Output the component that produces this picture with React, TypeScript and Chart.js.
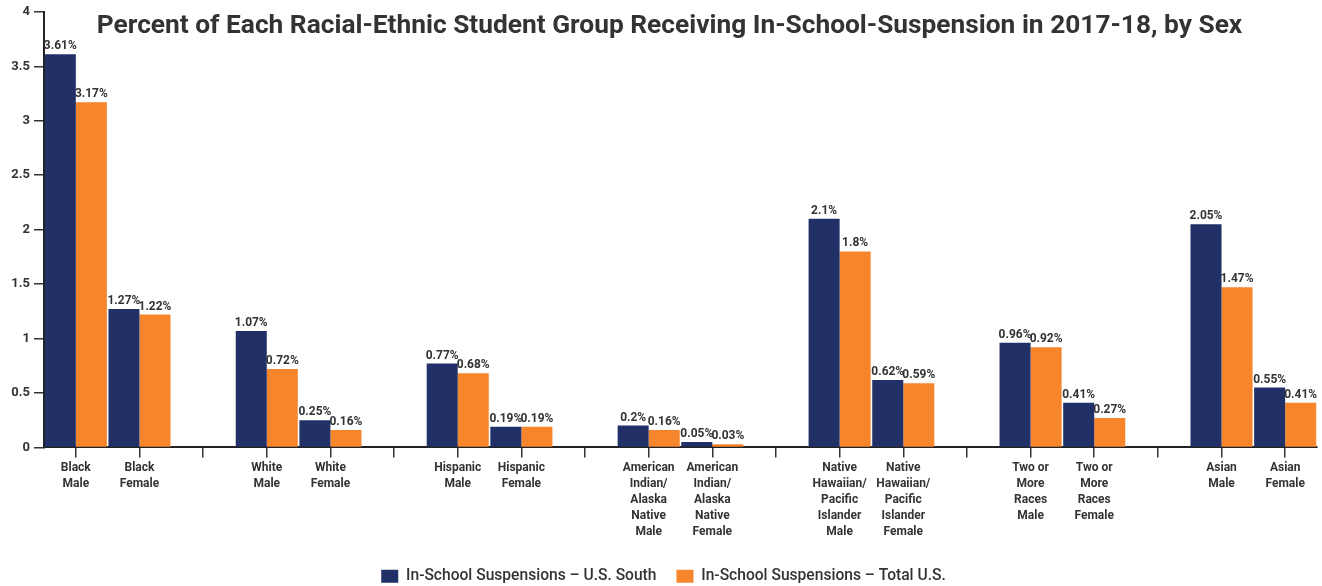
import React, { useEffect, useRef } from 'react';
import { Chart, registerables } from 'chart.js';

Chart.register(...registerables);

const titleText =
  'Percent of Each Racial-Ethnic Student Group Receiving In-School-Suspension in 2017-18, by Sex';

const seriesNames = ['In-School Suspensions \u2013 U.S. South', 'In-School Suspensions \u2013 Total U.S.'];

const categoryLabels: (string | string[])[] = [
  ['Black', 'Male'],
  ['Black', 'Female'],
  '',
  ['White', 'Male'],
  ['White', 'Female'],
  '',
  ['Hispanic', 'Male'],
  ['Hispanic', 'Female'],
  '',
  ['American', 'Indian/', 'Alaska', 'Native', 'Male'],
  ['American', 'Indian/', 'Alaska', 'Native', 'Female'],
  '',
  ['Native', 'Hawaiian/', 'Pacific', 'Islander', 'Male'],
  ['Native', 'Hawaiian/', 'Pacific', 'Islander', 'Female'],
  '',
  ['Two or', 'More', 'Races', 'Male'],
  ['Two or', 'More', 'Races', 'Female'],
  '',
  ['Asian', 'Male'],
  ['Asian', 'Female'],
];

const southValues = [3.61, 1.27, null, 1.07, 0.25, null, 0.77, 0.19, null, 0.2, 0.05, null, 2.1, 0.62, null, 0.96, 0.41, null, 2.05, 0.55];
const totalValues = [3.17, 1.22, null, 0.72, 0.16, null, 0.68, 0.19, null, 0.16, 0.03, null, 1.8, 0.59, null, 0.92, 0.27, null, 1.47, 0.41];

const yMin = 0;
const yMax = 4;
const yStep = 0.5;

const NAVY = '#213066';
const ORANGE = '#f6852c';
const TEXT = '#333333';

const valueLabelsPlugin = {
  id: 'valueLabels',
  afterDatasetsDraw(chart: any) {
    const ctx = chart.ctx;
    ctx.save();
    ctx.font = 'bold 13px Roboto';
    ctx.fillStyle = TEXT;
    ctx.textAlign = 'center';
    ctx.textBaseline = 'alphabetic';
    chart.data.datasets.forEach((ds: any, di: number) => {
      const meta = chart.getDatasetMeta(di);
      meta.data.forEach((el: any, i: number) => {
        const v = ds.data[i];
        if (v === null || v === undefined) return;
        ctx.save();
        ctx.translate(el.x, el.y - 5);
        ctx.scale(0.92, 1);
        ctx.fillText(`${v}%`, 0, 0);
        ctx.restore();
      });
    });
    ctx.restore();
  },
};

const titlePlugin = {
  id: 'overlayTitle',
  afterDraw(chart: any) {
    const ctx = chart.ctx;
    ctx.save();
    ctx.font = 'bold 26.3px Roboto';
    ctx.fillStyle = TEXT;
    ctx.textAlign = 'center';
    ctx.textBaseline = 'alphabetic';
    ctx.fillText(titleText, 669.5, 33);
    ctx.restore();
  },
};

export default function App() {
  const canvasRef = useRef<HTMLCanvasElement | null>(null);

  useEffect(() => {
    if (!canvasRef.current) return;
    Chart.defaults.font.family = 'Roboto';
    const chart = new Chart(canvasRef.current, {
      type: 'bar',
      data: {
        labels: categoryLabels,
        datasets: [
          {
            label: seriesNames[0],
            data: southValues,
            backgroundColor: NAVY,
            borderWidth: 0,
            categoryPercentage: 0.975,
            barPercentage: 1,
          },
          {
            label: seriesNames[1],
            data: totalValues,
            backgroundColor: ORANGE,
            borderWidth: 0,
            categoryPercentage: 0.975,
            barPercentage: 1,
          },
        ],
      },
      options: {
        animation: false,
        responsive: true,
        maintainAspectRatio: false,
        layout: { padding: { left: 10, right: 5, top: 11, bottom: -8 } },
        plugins: {
          title: { display: false },
          tooltip: { enabled: false },
          legend: {
            display: true,
            position: 'bottom',
            labels: {
              boxWidth: 17,
              boxHeight: 13,
              padding: 20,
              color: TEXT,
              font: { family: 'Roboto', size: 15.6, weight: '500' },
            },
          },
        },
        scales: {
          x: {
            offset: true,
            grid: {
              display: true,
              drawOnChartArea: false,
              drawTicks: true,
              tickLength: 10,
              offset: false,
              color: TEXT,
              lineWidth: 1.5,
            },
            border: { display: true, color: '#222', width: 2 },
            ticks: {
              autoSkip: false,
              maxRotation: 0,
              minRotation: 0,
              padding: 2,
              color: TEXT,
              font: { family: 'Roboto', size: 12, weight: 'bold', lineHeight: 1.35 },
            },
            afterFit: (scale: any) => {
              scale.height = 101;
            },
          },
          y: {
            min: yMin,
            max: yMax,
            grid: {
              display: true,
              drawOnChartArea: false,
              drawTicks: true,
              tickLength: 10,
              color: TEXT,
              lineWidth: 1.5,
            },
            border: { display: true, color: '#222', width: 2 },
            ticks: {
              stepSize: yStep,
              padding: 4,
              color: TEXT,
              font: { family: 'Roboto', size: 13, weight: 'bold' },
              callback: (v: any) => String(Number(v)),
            },
            afterFit: (scale: any) => {
              scale.width = 34;
            },
          },
        },
      },
      plugins: [valueLabelsPlugin, titlePlugin],
    } as any);
    return () => chart.destroy();
  }, []);

  return (
    <div style={{ position: 'absolute', left: 0, top: 0, width: 1322, height: 586, background: '#fff' }}>
      <canvas ref={canvasRef} />
    </div>
  );
}
